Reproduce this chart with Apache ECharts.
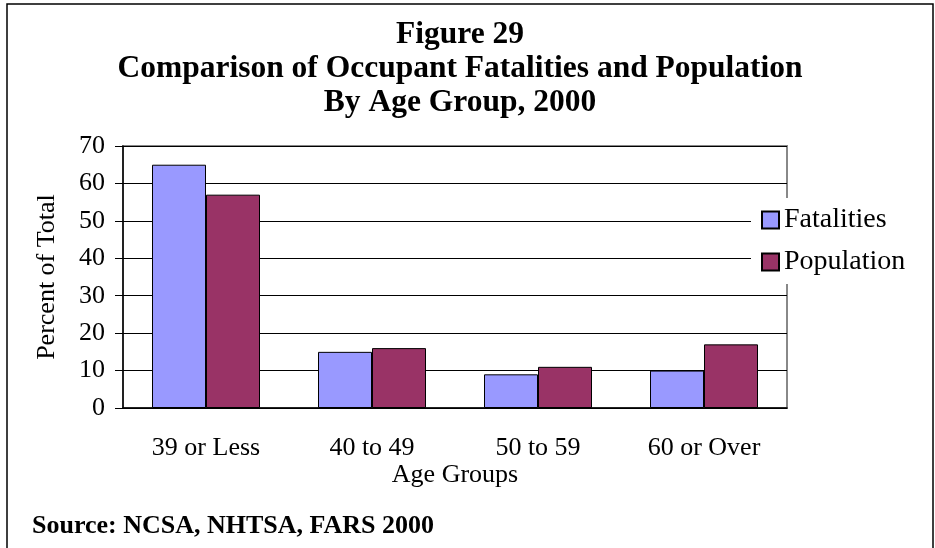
<!DOCTYPE html>
<html>
<head>
<meta charset="utf-8">
<script src="https://cdn.jsdelivr.net/npm/echarts@6/dist/echarts.min.js"></script>
<style>
  html, body { margin: 0; padding: 0; background: #fff; }
  #chart { width: 935px; height: 548px; }
</style>
</head>
<body>
<div id="chart"></div>
<script>
// age groups and percent values
const categories = ['39 or Less', '40 to 49', '50 to 59', '60 or Over']
const fatalities = [65, 15, 9, 10]
const population = [57, 16, 11, 17]
const yTicks = [0, 10, 20, 30, 40, 50, 60, 70]

const serif = '"Liberation Serif", "DejaVu Serif", serif'

let chart = echarts.init(document.getElementById('chart'))
chart.setOption({
  animation: false,
  title: {
    text: 'Figure 29\nComparison of Occupant Fatalities and Population\nBy Age Group, 2000',
    left: 455,
    textAlign: 'center',
    top: 13,
    textStyle: {
      fontFamily: serif,
      fontWeight: 'bold',
      fontSize: 31.5,
      lineHeight: 34,
      color: '#000'
    }
  },
  graphic: [
    {
      type: 'rect',
      shape: { x: 7, y: 4, width: 926, height: 600 },
      style: { fill: 'none', stroke: '#000', lineWidth: 1.5 },
      silent: true,
      z: -10
    },
    {
      type: 'text',
      left: 32,
      top: 513,
      style: {
        text: 'Source: NCSA, NHTSA, FARS 2000',
        fontFamily: serif,
        fontWeight: 'bold',
        fontSize: 26,
        fill: '#000'
      }
    }
  ],
  legend: {
    orient: 'vertical',
    left: 751,
    top: 198,
    padding: [8, 10, 8, 10],
    backgroundColor: '#fff',
    itemWidth: 17,
    itemHeight: 17,
    itemGap: 14,
    icon: 'rect',
    textStyle: { fontFamily: serif, fontSize: 28, color: '#000' },
    data: ['Fatalities', 'Population'],
    z: 10
  },
  grid: {
    left: 123,
    right: 148,
    top: 146,
    height: 262,
    show: true,
    borderColor: '#888',
    borderWidth: 2
  },
  xAxis: {
    type: 'category',
    data: categories,
    name: 'Age Groups',
    nameLocation: 'middle',
    nameGap: 49,
    nameTextStyle: { fontFamily: serif, fontSize: 26, color: '#000' },
    axisLine: { lineStyle: { color: '#000', width: 1.5 } },
    axisTick: { length: 8, lineStyle: { color: '#000' } },
    axisLabel: { fontFamily: serif, fontSize: 26, color: '#000', margin: 27 }
  },
  yAxis: {
    type: 'value',
    min: yTicks[0],
    max: yTicks[yTicks.length - 1],
    interval: 10,
    name: 'Percent of Total',
    nameLocation: 'middle',
    nameGap: 63,
    nameTextStyle: { fontFamily: serif, fontSize: 26, color: '#000' },
    axisLine: { show: true, lineStyle: { color: '#000', width: 1.5 } },
    axisTick: { show: true, length: 8, lineStyle: { color: '#000' } },
    axisLabel: { fontFamily: serif, fontSize: 26, color: '#000', margin: 18 },
    splitLine: { lineStyle: { color: '#000', width: 1 } }
  },
  series: [
    {
      name: 'Fatalities',
      type: 'bar',
      data: fatalities,
      barWidth: 54,
      barGap: '0%',
      itemStyle: { color: '#9999FF', borderColor: '#000', borderWidth: 1 }
    },
    {
      name: 'Population',
      type: 'bar',
      data: population,
      barWidth: 54,
      barGap: '0%',
      itemStyle: { color: '#993366', borderColor: '#000', borderWidth: 1 }
    }
  ]
})
</script>
</body>
</html>
